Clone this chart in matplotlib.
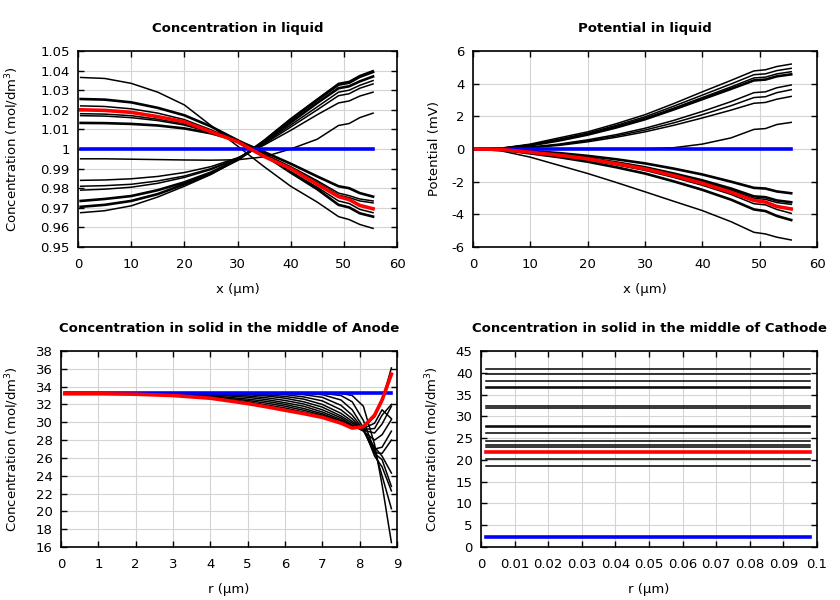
import matplotlib
matplotlib.use("Agg")
import matplotlib.pyplot as plt
from matplotlib.ticker import MultipleLocator, FuncFormatter

# --- data: concentration in liquid ---
x_liq = [0.5, 5, 10, 15, 20, 25, 30, 35, 40, 45, 49, 51, 53, 55.5]
c_liq_black = [
    [1.0365, 1.036, 1.0335, 1.029, 1.0225, 1.012, 1.0015, 0.991, 0.981, 0.9729, 0.9655, 0.964, 0.9615, 0.9595],
    [1.0255, 1.0252, 1.0238, 1.021, 1.0172, 1.0115, 1.0045, 0.997, 0.988, 0.9795, 0.9715, 0.9702, 0.9672, 0.9655],
    [1.022, 1.0217, 1.0205, 1.0183, 1.015, 1.0098, 1.004, 0.9965, 0.9885, 0.9805, 0.9735, 0.9722, 0.9692, 0.9675],
    [1.018, 1.0178, 1.017, 1.0152, 1.0128, 1.0088, 1.004, 0.997, 0.9905, 0.983, 0.9765, 0.9752, 0.9735, 0.9725],
    [1.017, 1.0168, 1.016, 1.0145, 1.0122, 1.0085, 1.004, 0.9975, 0.991, 0.9838, 0.9775, 0.9762, 0.9745, 0.9735],
    [1.0133, 1.0132, 1.0128, 1.012, 1.0105, 1.008, 1.0043, 0.9985, 0.9925, 0.986, 0.981, 0.980, 0.9775, 0.9757],
    [0.9675, 0.9685, 0.971, 0.9755, 0.981, 0.987, 0.9945, 1.0045, 1.0155, 1.0255, 1.0335, 1.0345, 1.0375, 1.040],
    [0.9705, 0.9715, 0.9735, 0.977, 0.982, 0.9875, 0.9945, 1.004, 1.0148, 1.025, 1.0328, 1.0338, 1.0368, 1.0393],
    [0.9735, 0.9745, 0.976, 0.979, 0.983, 0.988, 0.9945, 1.0035, 1.0135, 1.0235, 1.031, 1.032, 1.0345, 1.037],
    [0.979, 0.9795, 0.9805, 0.9825, 0.9855, 0.9895, 0.995, 1.003, 1.0122, 1.0215, 1.029, 1.030, 1.0325, 1.0349],
    [0.981, 0.9813, 0.982, 0.9837, 0.9862, 0.990, 0.9952, 1.0025, 1.0112, 1.020, 1.0272, 1.0282, 1.031, 1.0332],
    [0.984, 0.9842, 0.9848, 0.986, 0.988, 0.991, 0.9955, 1.002, 1.0095, 1.0175, 1.0235, 1.0245, 1.027, 1.029],
    [0.995, 0.995, 0.9948, 0.9946, 0.9944, 0.9943, 0.9945, 0.996, 1.000, 1.005, 1.012, 1.013, 1.016, 1.0183],
]
lw_liq = [1.1, 1.9, 1.1, 1.1, 1.1, 1.9, 1.1, 1.9, 1.9, 1.1, 1.1, 1.1, 1.1]
c_liq_blue = [1.0, 1.0, 1.0, 1.0, 1.0, 1.0, 1.0, 1.0, 1.0, 1.0, 1.0, 1.0, 1.0, 1.0]
c_liq_red = [1.020, 1.0197, 1.0187, 1.0165, 1.0139, 1.0088, 1.0037, 0.9962, 0.990, 0.982, 0.9757, 0.9742, 0.9712, 0.9695]

# --- data: potential in liquid (mV) ---
phi_black = [
    [0, 0.05, 0.3, 0.68, 1.05, 1.55, 2.1, 2.78, 3.5, 4.2, 4.78, 4.85, 5.05, 5.2],
    [0, 0.04, 0.26, 0.6, 0.97, 1.45, 1.97, 2.62, 3.3, 3.98, 4.55, 4.6, 4.8, 4.94],
    [0, 0.04, 0.24, 0.55, 0.92, 1.38, 1.88, 2.5, 3.15, 3.8, 4.35, 4.4, 4.6, 4.73],
    [0, 0.03, 0.22, 0.52, 0.88, 1.32, 1.82, 2.42, 3.05, 3.68, 4.2, 4.25, 4.45, 4.57],
    [0, 0.02, 0.12, 0.3, 0.56, 0.88, 1.27, 1.75, 2.3, 2.9, 3.45, 3.5, 3.75, 3.92],
    [0, 0.02, 0.1, 0.26, 0.5, 0.8, 1.16, 1.6, 2.1, 2.65, 3.15, 3.2, 3.45, 3.63],
    [0, 0.01, 0.08, 0.22, 0.44, 0.72, 1.05, 1.45, 1.9, 2.38, 2.8, 2.85, 3.05, 3.22],
    [0, 0, 0, 0, 0, 0, 0.01, 0.08, 0.3, 0.68, 1.2, 1.25, 1.5, 1.63],
    [0, -0.02, -0.12, -0.25, -0.42, -0.63, -0.88, -1.2, -1.56, -2.0, -2.38, -2.42, -2.6, -2.71],
    [0, -0.03, -0.18, -0.35, -0.55, -0.82, -1.12, -1.5, -1.92, -2.42, -2.9, -2.95, -3.15, -3.26],
    [0, -0.03, -0.19, -0.37, -0.58, -0.86, -1.17, -1.56, -2.0, -2.52, -3.02, -3.08, -3.28, -3.39],
    [0, -0.04, -0.22, -0.42, -0.66, -0.97, -1.31, -1.74, -2.22, -2.78, -3.35, -3.42, -3.7, -3.94],
    [0, -0.05, -0.27, -0.5, -0.78, -1.12, -1.5, -1.98, -2.5, -3.1, -3.7, -3.8, -4.1, -4.35],
    [0, -0.12, -0.5, -1.0, -1.5, -2.05, -2.62, -3.2, -3.77, -4.45, -5.1, -5.2, -5.4, -5.57],
]
lw_phi = [1.1, 1.1, 1.1, 1.9, 1.1, 1.1, 1.1, 1.1, 1.9, 1.9, 1.1, 1.1, 1.9, 1.1]
phi_blue = [0, 0, 0, 0, 0, 0, 0, 0, 0, 0, 0, 0, 0, 0]
phi_red = [0, -0.03, -0.2, -0.38, -0.6, -0.9, -1.22, -1.63, -2.1, -2.65, -3.15, -3.25, -3.52, -3.67]

# --- data: solid concentration, anode ---
r_an = [0.1, 1, 2, 3, 4, 5, 5.5, 6, 6.5, 7, 7.5, 7.8, 8.1, 8.4, 8.6, 8.85]
cs_an_black = [
    [33.3, 33.3, 33.3, 33.3, 33.3, 33.3, 33.3, 33.3, 33.3, 33.3, 33.25, 33.0, 31.8, 27.5, 23.0, 16.5],
    [33.3, 33.3, 33.3, 33.3, 33.3, 33.3, 33.3, 33.3, 33.3, 33.25, 33.0, 32.3, 30.2, 26.8, 24.0, 20.3],
    [33.3, 33.3, 33.3, 33.3, 33.3, 33.3, 33.3, 33.3, 33.25, 33.1, 32.5, 31.4, 29.4, 26.2, 25.0, 22.3],
    [33.3, 33.3, 33.3, 33.3, 33.3, 33.3, 33.3, 33.25, 33.1, 32.8, 31.9, 30.8, 29.2, 26.5, 25.8, 22.8],
    [33.3, 33.3, 33.3, 33.3, 33.3, 33.28, 33.22, 33.1, 32.85, 32.4, 31.4, 30.4, 29.1, 27.2, 26.2, 24.3],
    [33.3, 33.3, 33.3, 33.3, 33.3, 33.2, 33.08, 32.9, 32.6, 32.0, 31.0, 30.1, 29.1, 26.6, 26.5, 28.0],
    [33.3, 33.3, 33.3, 33.3, 33.25, 33.1, 32.95, 32.7, 32.3, 31.7, 30.7, 29.9, 29.1, 27.0, 27.2, 29.0],
    [33.3, 33.3, 33.3, 33.28, 33.2, 32.95, 32.75, 32.45, 32.05, 31.4, 30.5, 29.7, 29.0, 28.0, 28.6, 30.3],
    [33.3, 33.3, 33.3, 33.25, 33.1, 32.8, 32.55, 32.2, 31.8, 31.15, 30.3, 29.6, 29.1, 28.8, 29.8, 31.8],
    [33.3, 33.3, 33.28, 33.2, 33.0, 32.6, 32.35, 32.0, 31.55, 30.95, 30.15, 29.5, 29.2, 29.3, 30.8, 32.0],
    [33.3, 33.3, 33.25, 33.15, 32.9, 32.45, 32.15, 31.8, 31.35, 30.8, 30.05, 29.45, 29.3, 29.9, 31.4, 30.4],
    [33.25, 33.25, 33.2, 33.1, 32.8, 32.3, 31.95, 31.6, 31.15, 30.7, 30.0, 29.4, 29.45, 30.6, 32.4, 36.1],
]
cs_an_blue = [33.3, 33.3, 33.3, 33.3, 33.3, 33.3, 33.3, 33.3, 33.3, 33.3, 33.3, 33.3, 33.3, 33.3, 33.3, 33.3]
cs_an_red = [33.2, 33.2, 33.15, 33.0, 32.7, 32.1, 31.74, 31.35, 30.97, 30.55, 29.9, 29.35, 29.5, 30.8, 32.5, 35.4]

# --- data: solid concentration, cathode ---
r_ca = [0.0015, 0.098]
cs_ca_levels = [40.8, 39.7, 38.0, 36.75, 36.45, 32.3, 31.95, 27.8, 27.45, 26.1, 24.3, 23.5, 23.0, 20.1, 18.5]
cs_ca_blue = 2.2
cs_ca_red = 21.9

plt.rcParams['font.family'] = ['DejaVu Sans']
plt.rcParams['font.size'] = 9.5

fig = plt.figure(figsize=(8.4, 6.0), dpi=100)
W, H = 840.0, 600.0


def make_ax(l, t, r, b):
    # l, t, r, b in pixels from the top-left corner
    ax = fig.add_axes([l / W, 1 - b / H, (r - l) / W, (b - t) / H])
    ax.grid(True, color='#d4d4d4', linewidth=0.8)
    ax.set_axisbelow(True)
    ax.tick_params(direction='in', length=4, width=1, top=True, right=True,
                   labelsize=9.5, pad=6)
    ax.tick_params(axis='x', pad=8)
    for s in ax.spines.values():
        s.set_linewidth(1.2)
    fmt = FuncFormatter(lambda v, p: f'{round(v, 6):g}')
    ax.xaxis.set_major_formatter(fmt)
    ax.yaxis.set_major_formatter(fmt)
    return ax


# panel 1
ax1 = make_ax(78, 51, 397, 247)
for ys, lw in zip(c_liq_black, lw_liq):
    ax1.plot(x_liq, ys, color='black', lw=lw)
ax1.plot(x_liq, c_liq_blue, color='#0000ff', lw=2.6)
ax1.plot(x_liq, c_liq_red, color='#ff0000', lw=2.6)
ax1.set_xlim(0, 60)
ax1.set_ylim(0.95, 1.05)
ax1.xaxis.set_major_locator(MultipleLocator(10))
ax1.yaxis.set_major_locator(MultipleLocator(0.01))

# panel 2
ax2 = make_ax(473, 51, 817, 247)
for ys, lw in zip(phi_black, lw_phi):
    ax2.plot(x_liq, ys, color='black', lw=lw)
ax2.plot(x_liq, phi_blue, color='#0000ff', lw=2.6)
ax2.plot(x_liq, phi_red, color='#ff0000', lw=2.6)
ax2.set_xlim(0, 60)
ax2.set_ylim(-6, 6)
ax2.xaxis.set_major_locator(MultipleLocator(10))
ax2.yaxis.set_major_locator(MultipleLocator(2))

# panel 3
ax3 = make_ax(61, 351, 397, 547)
for ys in cs_an_black:
    ax3.plot(r_an, ys, color='black', lw=1.1)
ax3.plot(r_an, cs_an_blue, color='#0000ff', lw=2.6)
ax3.plot(r_an, cs_an_red, color='#ff0000', lw=2.6)
ax3.set_xlim(0, 9)
ax3.set_ylim(16, 38)
ax3.xaxis.set_major_locator(MultipleLocator(1))
ax3.yaxis.set_major_locator(MultipleLocator(2))

# panel 4
ax4 = make_ax(481, 351, 817, 547)
for v in cs_ca_levels:
    ax4.plot(r_ca, [v, v], color='black', lw=1.1)
ax4.plot(r_ca, [cs_ca_blue, cs_ca_blue], color='#0000ff', lw=2.6)
ax4.plot(r_ca, [cs_ca_red, cs_ca_red], color='#ff0000', lw=2.6)
ax4.set_xlim(0, 0.1)
ax4.set_ylim(0, 45)
ax4.xaxis.set_major_locator(MultipleLocator(0.01))
ax4.yaxis.set_major_locator(MultipleLocator(5))

conc = 'Concentration (mol/dm$^3$)'
panels = [
    (ax1, 'Concentration in liquid', 'x (µm)', conc, 21, 51),
    (ax2, 'Potential in liquid', 'x (µm)', 'Potential (mV)', 441, 51),
    (ax3, 'Concentration in solid in the middle of Anode', 'r (µm)', conc, 21, 351),
    (ax4, 'Concentration in solid in the middle of Cathode', 'r (µm)', conc, 441, 351),
]
for ax, title, xl, yl, lx, ty in panels:
    ax.set_title(title, fontweight='bold', fontsize=9.5, pad=14)
    ax.set_xlabel(xl)
    ax.set_ylabel(yl)

fig.canvas.draw()
# place axis labels at fixed pixel positions
for ax, title, xl, yl, lx, ty in panels:
    inv = ax.transAxes.inverted()
    ax_x = inv.transform((lx, 0))[0]
    ax_y = inv.transform((0, H - (ty + 232)))[1]
    ax.yaxis.set_label_coords(ax_x, 0.5)
    ax.xaxis.set_label_coords(0.5, ax_y)

fig.savefig('out.png', dpi=100)
